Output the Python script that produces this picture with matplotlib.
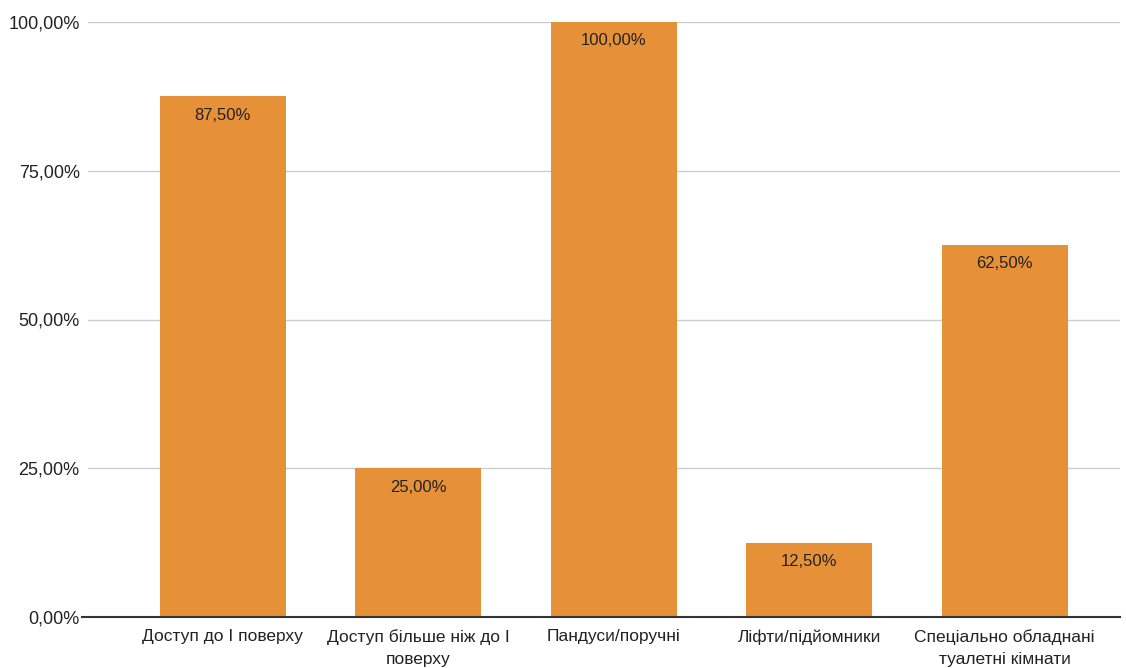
import matplotlib
matplotlib.use("Agg")
import matplotlib.pyplot as plt
from matplotlib.transforms import blended_transform_factory

categories = ["Доступ до І поверху", "Доступ більше ніж до І\nповерху", "Пандуси/поручні",
              "Ліфти/підйомники", "Спеціально обладнані\nтуалетні кімнати"]
values = [87.5, 25.0, 100.0, 12.5, 62.5]
yticks = [0, 25, 50, 75, 100]

plt.rcParams['font.family'] = ['Liberation Sans', 'DejaVu Sans']

fig = plt.figure(figsize=(11.26, 6.68), dpi=100)
ax = fig.add_axes([88/1126, 1-617/668, (1120-88)/1126, (617-22)/668])

x = list(range(len(categories)))
ax.bar(x, values, width=0.645, color="#E69138", zorder=3)
for xi, v in zip(x, values):
    ax.text(xi, v - 1.9, f"{v:.2f}%".replace(".", ","), ha="center", va="top",
            fontsize=12, color="#222222", zorder=4)

ax.set_xlim(-0.69, 4.59)
ax.set_ylim(0, 100)
ax.set_yticks(yticks)
ax.set_yticklabels([f"{t:.2f}%".replace(".", ",") for t in yticks], fontsize=13, color="#222222")
ax.set_xticks(x)
ax.set_xticklabels(categories, fontsize=12.5, color="#222222", linespacing=1.55)
ax.tick_params(axis="both", length=0)
ax.tick_params(axis="y", pad=6)
ax.tick_params(axis="x", pad=9)
for s in ax.spines.values():
    s.set_visible(False)
ax.grid(axis="y", color="#cccccc", linewidth=1, zorder=0)
tr = blended_transform_factory(ax.transAxes, ax.transData)
ax.plot([-0.006, 1], [0, 0], color="#333333", linewidth=1.5, transform=tr, clip_on=False, zorder=5)

fig.savefig("out.png", dpi=100)
